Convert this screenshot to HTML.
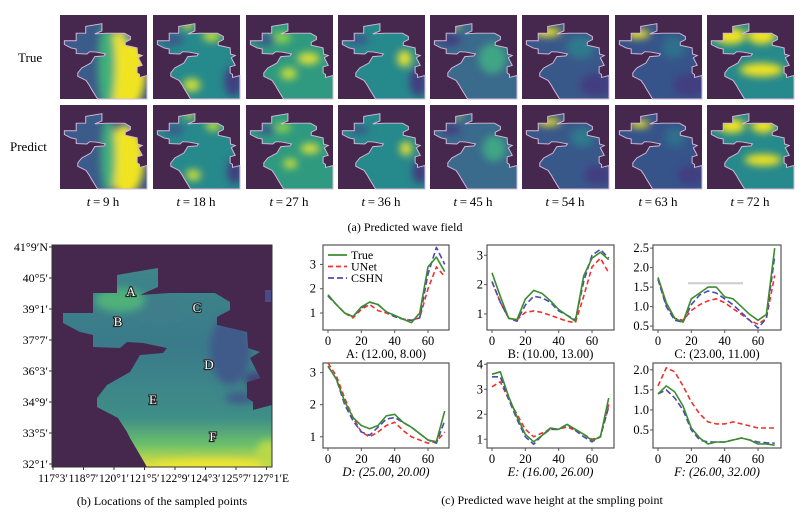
<!DOCTYPE html>
<html><head><meta charset="utf-8">
<style>
html,body{margin:0;padding:0;background:#fff;}
svg{display:block;font-family:"Liberation Serif",serif;}
</style></head>
<body>
<svg id="fig" width="809" height="517" viewBox="0 0 809 517" xmlns="http://www.w3.org/2000/svg">
<defs>
<filter id="blur4" x="-50%" y="-50%" width="200%" height="200%"><feGaussianBlur stdDeviation="10"/></filter>
<filter id="blur2" x="-50%" y="-50%" width="200%" height="200%"><feGaussianBlur stdDeviation="4"/></filter>
<linearGradient id="mapgrad" x1="0" y1="0" x2="0" y2="1">
<stop offset="0" stop-color="#3f8a8a"/><stop offset="0.45" stop-color="#3a7a8a"/><stop offset="0.78" stop-color="#3f8e88"/><stop offset="0.9" stop-color="#6cc06a"/><stop offset="1" stop-color="#e8e23a"/>
</linearGradient>
</defs>
<rect width="809" height="517" fill="#fff"/>
<g id="topPanels"></g>
<text x="18" y="62" font-size="13">True</text>
<text x="10" y="151" font-size="13">Predict</text>
<text x="405" y="231" font-size="12" text-anchor="middle">(a) Predicted wave field</text>
<g id="mapGroup"></g>
<text x="162" y="505" font-size="12" text-anchor="middle">(b) Locations of the sampled points</text>
<g id="chartsGroup"></g>
<text x="552" y="504" font-size="12" text-anchor="middle">(c) Predicted wave height at the smpling point</text>
</svg>
<script>
// ---------- chart data ----------
const steps = [0,5,10,15,20,25,30,35,40,45,50,55,60,65,70];
const trueA = [1.75,1.35,1.0,0.85,1.25,1.45,1.35,1.05,0.9,0.75,0.6,1.0,2.9,3.3,2.7];
const unetA = [1.7,1.35,1.0,0.8,1.15,1.35,1.1,1.0,0.85,0.75,0.7,0.8,2.0,2.9,2.5];
const cshnA = [1.7,1.35,1.0,0.85,1.2,1.45,1.35,1.05,0.85,0.75,0.7,0.8,2.6,3.7,3.0];
const trueB = [2.4,1.6,0.85,0.8,1.5,1.8,1.7,1.45,1.15,0.95,0.75,2.3,2.9,3.1,2.85];
const unetB = [2.1,1.4,0.85,0.8,1.05,1.1,1.05,0.95,0.85,0.75,0.7,1.6,2.6,2.9,2.4];
const cshnB = [2.1,1.4,0.85,0.75,1.3,1.6,1.55,1.4,1.1,0.95,0.8,2.1,3.0,3.2,2.9];
const trueC = [1.75,1.1,0.7,0.6,1.2,1.35,1.5,1.5,1.25,1.2,1.0,0.8,0.65,0.8,2.5];
const unetC = [1.7,1.05,0.7,0.65,0.9,1.05,1.15,1.2,1.1,0.95,0.8,0.65,0.55,0.7,1.8];
const cshnC = [1.7,1.0,0.65,0.6,1.05,1.3,1.4,1.35,1.2,1.05,0.85,0.65,0.45,0.7,2.3];
const trueD = [3.2,2.8,2.1,1.6,1.35,1.25,1.35,1.65,1.7,1.45,1.3,1.1,0.9,0.85,1.8];
const unetD = [3.3,2.9,2.2,1.6,1.15,1.0,1.15,1.35,1.45,1.2,1.0,0.9,0.8,0.85,1.15];
const cshnD = [3.2,2.8,2.0,1.5,1.15,1.05,1.3,1.55,1.6,1.45,1.3,1.1,0.9,0.8,1.5];
const trueE = [3.6,3.7,2.7,1.9,1.2,0.9,1.15,1.45,1.4,1.6,1.4,1.2,0.95,1.1,2.65];
const unetE = [3.1,3.3,2.6,2.0,1.4,1.1,1.25,1.4,1.4,1.5,1.35,1.2,1.0,1.1,2.4];
const cshnE = [3.5,3.5,2.6,1.8,1.1,0.8,1.15,1.4,1.4,1.6,1.35,1.1,0.9,1.1,2.3];
const trueF = [1.4,1.6,1.45,1.1,0.55,0.3,0.15,0.2,0.2,0.25,0.3,0.25,0.15,0.15,0.12];
const unetF = [1.6,2.05,1.95,1.6,1.2,0.9,0.7,0.65,0.65,0.7,0.65,0.6,0.55,0.55,0.55];
const cshnF = [1.4,1.5,1.3,1.0,0.5,0.25,0.2,0.2,0.2,0.25,0.3,0.25,0.2,0.18,0.17];
const xTicks = [0,20,40,60];
const yTicksA = [1,2,3];
const yTicksB = [1,2,3];
const yTicksC = [0.5,1.0,1.5,2.0,2.5];
const yTicksD = [1,2,3];
const yTicksE = [1,2,3,4];
const yTicksF = [0.5,1.0,1.5,2.0];
const captions = ["A: (12.00, 8.00)","B: (10.00, 13.00)","C: (23.00, 11.00)","D: (25.00, 20.00)","E: (16.00, 26.00)","F: (26.00, 32.00)"];
const timeLabels = ["9 h","18 h","27 h","36 h","45 h","54 h","63 h","72 h"];
const latLabels = ["41°9′N","40°5′","39°1′","37°7′","36°3′","34°9′","33°5′","32°1′"];
const lonLabels = ["117°3′","118°7′","120°1′","121°5′","122°9′","124°3′","125°7′","127°1′E"];

const NS="http://www.w3.org/2000/svg";
function mk(tag, attrs, parent){const e=document.createElementNS(NS,tag);for(const k in attrs)e.setAttribute(k,attrs[k]);if(parent)parent.appendChild(e);return e;}

const seaPts="63,313 93,313 93,293 117,293 117,275 158,268 158,287 140,295 170,293 215,293 230,302 230,310 217,317 217,325 247,332 248,348 260,352 250,358 260,378 247,382 247,398 253,402 253,410 272,405 272,467 147,467 140,455 130,438 127,432 118,418 97,407 97,398 107,385 130,372 140,355 163,353 167,348 143,343 127,342 120,348 93,347 93,335 80,332 63,323";
const BG="#46284f";

const panelX=[60,153,246,338,430,522,615,707];
const rowY=[15,105];
const Y="#f0e422",LG="#8fd744",GR="#3fb07a",TE="#26898c",BL="#3a5c8b",DB="#433d80";
const cfg=[
 [["#3b5b8a"],[[215,390,55,110,Y],[170,380,22,120,GR],[240,300,30,20,TE]]],
 [[TE],[[140,272,14,10,Y],[200,300,22,16,"#b8d93a"],[150,430,22,18,"#c8dd3a"],[255,420,22,40,DB],[100,310,30,18,BL]]],
 [["#2f9a80"],[[210,360,28,16,"#d8e038"],[160,400,20,16,"#c8dd3a"],[140,305,25,14,LG],[100,310,28,16,BL]]],
 [[TE],[[220,360,18,22,"#e3e035"],[100,310,30,16,BL],[255,420,22,40,DB]]],
 [["#3a6a8c"],[[120,272,10,8,Y],[210,360,35,40,"#3fa585"],[100,310,30,16,DB]]],
 [["#39588a"],[[115,290,35,12,Y],[200,330,35,30,"#2f7a8c"],[240,430,40,30,DB]]],
 [["#36548a"],[[110,295,30,12,Y],[200,330,30,30,"#2f708c"],[240,430,40,30,DB]]],
 [[TE],[[110,300,40,22,Y],[190,300,35,22,Y],[190,390,55,18,Y]]]
];
const topGroup=document.getElementById('topPanels');
for(let r=0;r<2;r++){
 for(let c=0;c<8;c++){
  const x0=panelX[c],y0=rowY[r];
  const g=mk('g',{transform:`translate(${x0},${y0})`},topGroup);
  
  
  mk('rect',{x:0,y:0,width:87,height:84,fill:BG},g);
  const cid=`cp${r}${c}`;
  const cp=mk('clipPath',{id:cid},g);
  mk('polygon',{points:seaPts,transform:`scale(${87/220},${84/222}) translate(-52,-245)`},cp);
  const inner=mk('g',{'clip-path':`url(#${cid})`},g);
  const ig=mk('g',{transform:`scale(${87/220},${84/222}) translate(-52,-245)`},inner);
  mk('rect',{x:52,y:245,width:220,height:222,fill:cfg[c][0][0]},ig);
  const bl=mk('g',{filter:'url(#blur4)'},ig);
  cfg[c][1].forEach((b)=>{
    const s = r===1 ? 0.85 : 1;
    mk('ellipse',{cx:b[0]+(r?4:0),cy:b[1],rx:b[2]*s,ry:b[3]*s,fill:b[4]},bl);
  });
  mk('polygon',{points:seaPts,fill:'none',stroke:'#d6b8d8','stroke-width':2.5,transform:`scale(${87/220},${84/222}) translate(-52,-245)`},g);
  if(r===0){
   const t=mk('text',{x:x0+43,y:206,'font-size':13,'text-anchor':'middle'},topGroup);
   const ti=mk('tspan',{'font-style':'italic'},t);
   ti.textContent='t';
   const tr=mk('tspan',{},t);
   tr.textContent='\u2009=\u2009'+timeLabels[c];
   
   
  }
 }
}

const mapG=document.getElementById('mapGroup');
mk('rect',{x:52,y:245,width:220,height:222,fill:BG},mapG);
const mcp=mk('clipPath',{id:'mapclip'},mapG);
mk('polygon',{points:seaPts},mcp);
const mg=mk('g',{'clip-path':'url(#mapclip)'},mapG);
mk('rect',{x:52,y:245,width:220,height:222,fill:'url(#mapgrad)'},mg);
const mb=mk('g',{filter:'url(#blur2)'},mg);
[[120,300,25,12,"#4fb07a"],[230,350,20,35,"#3f5a8a"],[255,380,10,8,"#44407e"],[240,398,15,6,"#3f5a8a"],[160,310,20,12,"#3f7d8a"],[268,455,12,15,"#b8d84a"],[210,465,55,5,"#f0e530"]].forEach(b=>mk('ellipse',{cx:b[0],cy:b[1],rx:b[2],ry:b[3],fill:b[4]},mb));
mk('rect',{x:265,y:290,width:6,height:12,fill:"#4a4a88"},mapG);
mk('rect',{x:52,y:245,width:220,height:222,fill:'none',stroke:'#333','stroke-width':1},mapG);
latLabels.forEach((l,i)=>{
 const y=247+i*31;
 mk('line',{x1:49,x2:52,y1:y,y2:y,stroke:'#333'},mapG);
 const t=mk('text',{x:48,y:y+4,'font-size':12,'text-anchor':'end'},mapG);
 t.textContent=l;
 
 
});
lonLabels.forEach((l,i)=>{
 const x=53+i*30.5;
 mk('line',{x1:x,x2:x,y1:467,y2:470,stroke:'#333'},mapG);
 const t=mk('text',{x:x+(i===7?4:0),y:482,'font-size':11.5,'text-anchor':'middle'},mapG);
 t.textContent=l;
 
 
});
[["A",131,296],["B",118,326],["C",197,312],["D",209,369],["E",153,404],["F",213,441]].forEach(p=>{
 const t=mk('text',{x:p[1],y:p[2],'font-size':13,'text-anchor':'middle',fill:'#fff',stroke:'#222','stroke-width':2.2,'paint-order':'stroke'},mapG);
 t.textContent=p[0];
 
 
});

const chartsG=document.getElementById('chartsGroup');
const specs=[
 {x:323,y:245,w:126,h:85,ymin:0.3,ymax:3.8,ticks:yTicksA,fmt:0,d:[trueA,unetA,cshnA]},
 {x:487,y:245,w:127,h:85,ymin:0.45,ymax:3.35,ticks:yTicksB,fmt:0,d:[trueB,unetB,cshnB]},
 {x:653,y:245,w:128,h:85,ymin:0.4,ymax:2.58,ticks:yTicksC,fmt:1,d:[trueC,unetC,cshnC]},
 {x:323,y:363,w:126,h:85,ymin:0.65,ymax:3.3,ticks:yTicksD,fmt:0,d:[trueD,unetD,cshnD]},
 {x:487,y:363,w:127,h:85,ymin:0.65,ymax:4.05,ticks:yTicksE,fmt:0,d:[trueE,unetE,cshnE]},
 {x:653,y:363,w:128,h:85,ymin:0.05,ymax:2.17,ticks:yTicksF,fmt:1,d:[trueF,unetF,cshnF]}
];
const styles=[{c:'#3c8c2e',dash:'none'},{c:'#f03030',dash:'5,3'},{c:'#4a4ab8',dash:'6,3'}];
specs.forEach((s,k)=>{
 const g=mk('g',{},chartsG);
 
 
 const xs=v=>s.x+5+v*1.667;
 const ys=v=>s.y+s.h-(v-s.ymin)/(s.ymax-s.ymin)*s.h;
 mk('rect',{x:s.x,y:s.y,width:s.w,height:s.h,fill:'#fff',stroke:'#555','stroke-width':1.2},g);
 xTicks.forEach(v=>{
  mk('line',{x1:xs(v),x2:xs(v),y1:s.y+s.h,y2:s.y+s.h+3,stroke:'#555'},g);
  const t=mk('text',{x:xs(v),y:s.y+s.h+15,'font-size':12.5,'text-anchor':'middle'},g);
  t.textContent=v;
  
  
 });
 s.ticks.forEach(v=>{
  mk('line',{x1:s.x-3,x2:s.x,y1:ys(v),y2:ys(v),stroke:'#555'},g);
  const t=mk('text',{x:s.x-(k===0||k===3?7:4),y:ys(v)+4,'font-size':12.5,'text-anchor':'end'},g);
  t.textContent=v.toFixed(s.fmt);
  
  
 });
 if(k===2){
  mk('line',{x1:xs(18),x2:xs(51),y1:ys(1.6),y2:ys(1.6),stroke:'#ccc','stroke-width':2},g);
 }
 const clipId='cc'+k;
 const cp=mk('clipPath',{id:clipId},g);
 mk('rect',{x:s.x,y:s.y,width:s.w,height:s.h},cp);
 const lg=mk('g',{'clip-path':`url(#${clipId})`},g);
 [1,2,0].forEach(si=>{
  const arr=s.d[si];
  const pts=arr.map((v,i)=>xs(steps[i]).toFixed(1)+','+ys(v).toFixed(1)).join(' ');
  const pl=mk('polyline',{points:pts,fill:'none',stroke:styles[si].c,'stroke-width':1.6,'stroke-dasharray':styles[si].dash,'stroke-linejoin':'round'},lg);
  
  
 });
 const cap=mk('text',{x:s.x+s.w/2,y:s.y+s.h+28,'font-size':12.5,'text-anchor':'middle','font-style':k>=3?'italic':'normal'},g);
 cap.textContent=captions[k];
 
 
 if(k===0){
  ['True','UNet','CSHN'].forEach((n,i)=>{
   const y=255+i*11.5;
   mk('line',{x1:328,x2:347,y1:y,y2:y,stroke:styles[i].c,'stroke-width':1.8,'stroke-dasharray':styles[i].dash},g);
   const t=mk('text',{x:351,y:y+4,'font-size':12},g);
   t.textContent=n;
   
   
  });
 }
});
</script>
</body></html>
